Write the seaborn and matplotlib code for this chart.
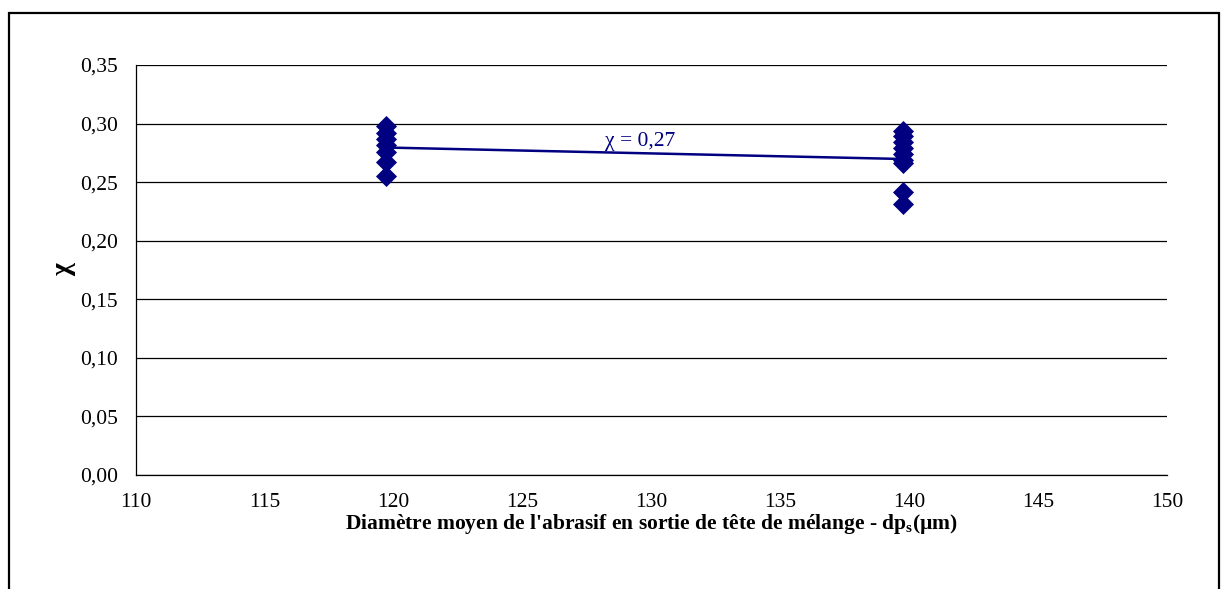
import numpy as np
import pandas as pd
import matplotlib
matplotlib.use("Agg")
import matplotlib.pyplot as plt
from matplotlib.patches import Rectangle
import seaborn as sns

# Data
x_120 = [119.7] * 7
chi_120 = [0.298, 0.292, 0.287, 0.282, 0.276, 0.267, 0.255]
x_140 = [139.75] * 9
chi_140 = [0.294, 0.289, 0.284, 0.279, 0.274, 0.269, 0.266, 0.242, 0.231]
x_ticks = [110, 115, 120, 125, 130, 135, 140, 145, 150]
y_ticks = [0.00, 0.05, 0.10, 0.15, 0.20, 0.25, 0.30, 0.35]
annotation = "χ = 0,27"

df = pd.DataFrame({"dp": x_120 + x_140, "chi": chi_120 + chi_140})

sns.set_theme(style="white")
plt.rcParams["font.family"] = ["Liberation Serif", "DejaVu Serif"]
plt.rcParams["mathtext.fontset"] = "custom"
plt.rcParams["mathtext.rm"] = "Liberation Serif:bold"
plt.rcParams["mathtext.default"] = "rm"

navy = "#000080"
fig = plt.figure(figsize=(12.23, 5.89), dpi=100)
ax = fig.add_axes([0.1112, 0.1935, 0.9542 - 0.1112, 0.8896 - 0.1935])

sns.lineplot(data=df, x="dp", y="chi", estimator="mean", errorbar=None,
             color=navy, lw=1.8, ax=ax, zorder=3)
sns.scatterplot(data=df, x="dp", y="chi", marker="D", s=115, color=navy,
                edgecolor=navy, linewidth=0, ax=ax, zorder=4)

ax.set_xlim(110, 150)
ax.set_ylim(0, 0.35)
ax.set_xticks(x_ticks)
ax.set_yticks(y_ticks)
ax.set_xticklabels([str(v) for v in x_ticks])
ax.set_yticklabels([f"{v:.2f}".replace(".", ",") for v in y_ticks])
ax.yaxis.grid(True, color="black", lw=0.9)
ax.xaxis.grid(False)
ax.set_axisbelow(True)
for side in ["top", "right"]:
    ax.spines[side].set_visible(False)
for side in ["left", "bottom"]:
    ax.spines[side].set_color("black")
    ax.spines[side].set_linewidth(0.9)
ax.tick_params(axis="both", direction="out", length=5, width=0.9,
               color="black", labelsize=15.5, labelcolor="black")
ax.tick_params(axis="y", pad=8)
ax.tick_params(axis="x", pad=8)

ax.set_xlabel(r"Diamètre moyen de l'abrasif en sortie de tête de mélange - dp$_{s}$(µm)",
              fontsize=15.5, fontweight="bold", color="black", labelpad=0)
ax.set_ylabel("χ", fontsize=20, fontweight="bold", color="black", labelpad=3)

ax.text(129.55, 0.2765, annotation, color=navy, fontsize=15.5,
        ha="center", va="bottom")

fig.patches.append(Rectangle((9 / 1223, -0.02), (1219 - 9) / 1223, 0.978 + 0.02,
                             transform=fig.transFigure, fill=False,
                             edgecolor="black", lw=1.6))

fig.savefig("out.png", dpi=100)
